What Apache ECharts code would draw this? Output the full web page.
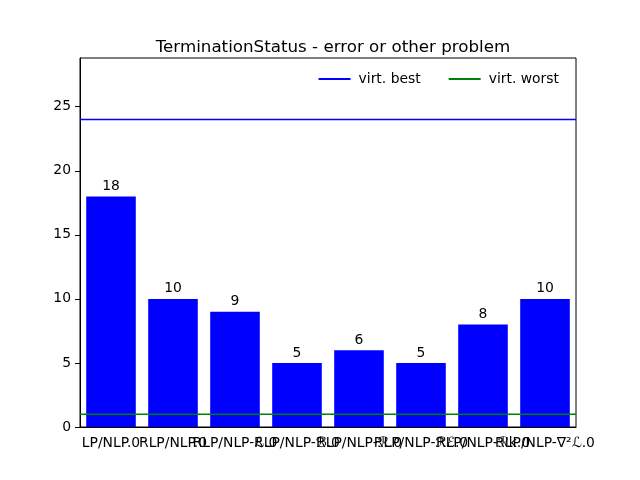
<!DOCTYPE html>
<html><head><meta charset="utf-8">
<script src="https://cdn.jsdelivr.net/npm/echarts@6/dist/echarts.min.js"></script>
<style>html,body{margin:0;padding:0;background:#fff}#c{width:640px;height:480px}</style>
</head><body><div id="c"></div>
<script>
const categories = ["LP/NLP.0", "RLP/NLP.0", "RLP/NLP-ℒ.0", "RLP/NLP-ℬ.0", "RLP/NLP-ℛ.0", "RLP/NLP-ℛℰ.0", "RLP/NLP-ℛk.0", "RLP/NLP-∇²ℒ.0"];
const counts = [18, 10, 9, 5, 6, 5, 8, 10];
const virtBest = 24;
const virtWorst = 1;
const yTicks = [0, 5, 10, 15, 20, 25];

const font = "DejaVu Sans";
const chart = echarts.init(document.getElementById('c'));
chart.setOption({
  animation: false,
  textStyle: {fontFamily: font},
  title: {text: "TerminationStatus - error or other problem", left: 328, textAlign: 'center', top: 34,
    textStyle: {fontFamily: font, fontSize: 16.7, fontWeight: 'normal', color: '#000'}},
  grid: {left: 80, right: 64, top: 58, bottom: 53, show: true, borderColor: '#000', borderWidth: 1},
  legend: {right: 76, top: 67, itemWidth: 32, itemHeight: 2, itemGap: 28,
    textStyle: {fontFamily: font, fontSize: 13.9, color: '#000', padding: [0, 0, 0, 3]},
    icon: 'rect',
    data: ['virt. best', 'virt. worst']},
  xAxis: [{type: 'category', data: categories,
    axisLine: {lineStyle: {color: '#000'}},
    axisTick: {alignWithLabel: true, length: 5, lineStyle: {color: '#000'}},
    axisLabel: {interval: 0, color: '#000', fontSize: 13.9, fontFamily: font, margin: 9}},
   {type: 'value', min: 0, max: 1, show: false}],
  yAxis: {type: 'value', min: 0, max: 28.8,
    axisLine: {show: true, lineStyle: {color: '#000'}},
    axisTick: {show: true, length: 5, lineStyle: {color: '#000'}, customValues: yTicks},
    splitLine: {show: false},
    axisLabel: {color: '#000', fontSize: 13.9, fontFamily: font, margin: 9, customValues: yTicks}},
  series: [
    {type: 'bar', data: counts, barCategoryGap: '20%', itemStyle: {color: '#0000ff'},
      label: {show: true, position: 'top', color: '#000', fontSize: 13.9, fontFamily: font, distance: 3}, z: 2},
    {name: 'virt. best', type: 'line', xAxisIndex: 1, data: [[0, virtBest], [1, virtBest]],
      symbol: 'none', lineStyle: {color: '#0000ff', width: 1.5}, itemStyle: {color: '#0000ff'}, z: 3},
    {name: 'virt. worst', type: 'line', xAxisIndex: 1, data: [[0, virtWorst], [1, virtWorst]],
      symbol: 'none', lineStyle: {color: '#008000', width: 1.5}, itemStyle: {color: '#008000'}, z: 3}
  ]
});
</script></body></html>
